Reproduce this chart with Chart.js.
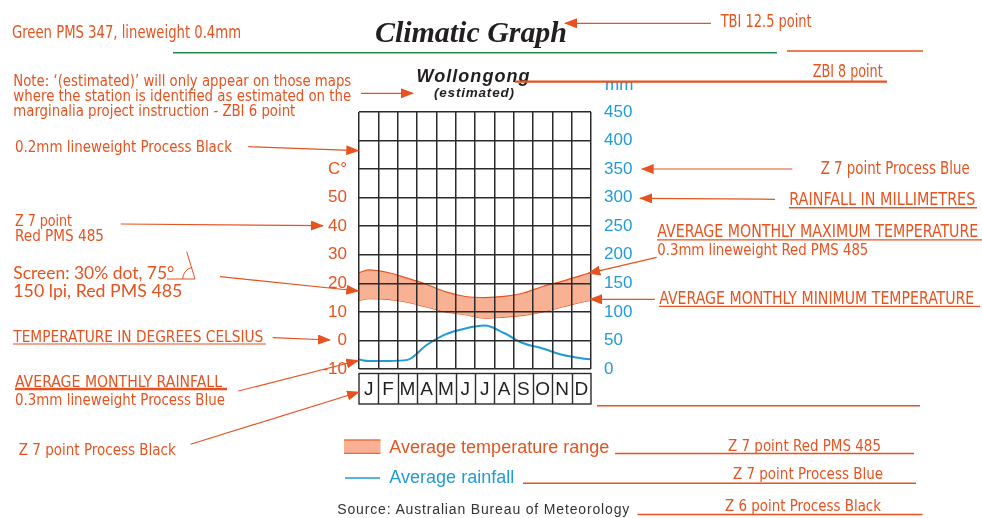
<!DOCTYPE html>
<html>
<head>
<meta charset="utf-8">
<title>Climatic Graph</title>
<script src="https://cdn.jsdelivr.net/npm/chart.js@4.4.1/dist/chart.umd.min.js"></script>
<style>
  html, body { margin: 0; padding: 0; background: #fff; }
  #wrap { position: relative; width: 982px; height: 518px; overflow: hidden; }
  #chart { position: absolute; left: 0; top: 0; }
  #notes { position: absolute; left: 0; top: 0; pointer-events: none; }
  .cond { font-family: "Liberation Sans Narrow", "DejaVu Sans Condensed", sans-serif; font-stretch: condensed; fill: #e6531f; }
  .geo { font-family: Lato, "Open Sans", sans-serif; fill: #e6531f; }
  .sans { font-family: "Liberation Sans", Arial, sans-serif; }
  .red { stroke: #e6531f; fill: none; }
</style>
</head>
<body>
<div id="wrap">
  <canvas id="chart" width="982" height="518"></canvas>
  <svg id="notes" width="982" height="518" xmlns="http://www.w3.org/2000/svg">
    <defs>
      <marker id="ah" markerUnits="userSpaceOnUse" markerWidth="13" markerHeight="10" refX="12" refY="5" orient="auto">
        <path d="M0,0 L13,5 L0,10 z" fill="#e6531f"/>
      </marker>
    </defs>

    <!-- title block -->
    <text x="375" y="41.5" font-family="Liberation Serif, serif" font-weight="bold" font-style="italic" font-size="30" fill="#231f20" textLength="192" lengthAdjust="spacing">Climatic Graph</text>
    <line x1="173" y1="52.7" x2="777" y2="52.7" stroke="#1f8a4c" stroke-width="1.5"/>
    <line class="red" x1="787" y1="51" x2="923" y2="51" stroke-width="1.3"/>
    <text class="sans" x="416.5" y="81.5" font-weight="bold" font-style="italic" font-size="18" fill="#231f20" textLength="113" lengthAdjust="spacing">Wollongong</text>
    <text class="sans" x="434" y="96.5" font-weight="bold" font-style="italic" font-size="13.5" fill="#231f20" textLength="80" lengthAdjust="spacing">(estimated)</text>
    <text class="sans" x="605" y="90" font-size="17" fill="#1f9bd7">mm</text>
    <line class="red" x1="515" y1="81.7" x2="887" y2="81.7" stroke-width="2.2"/>
    <text class="cond" x="812.7" y="77" font-size="17" textLength="70" lengthAdjust="spacingAndGlyphs">ZBI 8 point</text>

    <text class="cond" x="720.7" y="26.7" font-size="17.5" textLength="91" lengthAdjust="spacingAndGlyphs">TBI 12.5 point</text>
    <line class="red" x1="711" y1="23.3" x2="565" y2="23.3" stroke-width="1.3" marker-end="url(#ah)"/>
    <text class="cond" x="12" y="37.7" font-size="17.5" textLength="229" lengthAdjust="spacingAndGlyphs">Green PMS 347, lineweight 0.4mm</text>

    <text class="cond" x="13.3" y="86" font-size="15.5" textLength="338" lengthAdjust="spacingAndGlyphs">Note: ‘(estimated)’ will only appear on those maps</text>
    <text class="cond" x="13.3" y="101" font-size="15.5" textLength="338" lengthAdjust="spacingAndGlyphs">where the station is identified as estimated on the</text>
    <text class="cond" x="13.3" y="115.7" font-size="15.5" textLength="282" lengthAdjust="spacingAndGlyphs">marginalia project instruction - ZBI 6 point</text>
    <line class="red" x1="361" y1="93.3" x2="413" y2="93.3" stroke-width="1.3" marker-end="url(#ah)"/>

    <!-- left notes -->
    <text class="cond" x="15" y="151.7" font-size="16" textLength="217" lengthAdjust="spacingAndGlyphs">0.2mm lineweight Process Black</text>
    <line class="red" x1="248.3" y1="146.7" x2="358.3" y2="150.7" stroke-width="1.2" marker-end="url(#ah)"/>

    <text class="cond" x="15" y="226.3" font-size="16" textLength="57" lengthAdjust="spacingAndGlyphs">Z 7 point</text>
    <text class="cond" x="15" y="241" font-size="16" textLength="89" lengthAdjust="spacingAndGlyphs">Red PMS 485</text>
    <line class="red" x1="120.7" y1="224" x2="323" y2="225.7" stroke-width="1.2" marker-end="url(#ah)"/>

    <text class="geo" x="13.3" y="279" font-size="17" textLength="161" lengthAdjust="spacingAndGlyphs">Screen: 30% dot, 75°</text>
    <text class="geo" x="13.3" y="296.7" font-size="17" textLength="169" lengthAdjust="spacingAndGlyphs">150 lpi, Red PMS 485</text>
    <path class="red" d="M167,279 H195 L186.7,251.7 M182.7,279 A12,12 0 0 1 191.4,267.5" stroke-width="1"/>
    <line class="red" x1="220" y1="276.7" x2="358.3" y2="291" stroke-width="1.2" marker-end="url(#ah)"/>

    <text class="cond" x="13.3" y="341.7" font-size="16" textLength="250" lengthAdjust="spacingAndGlyphs">TEMPERATURE IN DEGREES CELSIUS</text>
    <line class="red" x1="13" y1="344" x2="266" y2="344" stroke-width="1.1"/>
    <line class="red" x1="272.7" y1="337.7" x2="330" y2="340" stroke-width="1.2" marker-end="url(#ah)"/>

    <text class="cond" x="15" y="386.7" font-size="16" textLength="207" lengthAdjust="spacingAndGlyphs">AVERAGE MONTHLY RAINFALL</text>
    <line class="red" x1="15" y1="389" x2="227" y2="389" stroke-width="2.6"/>
    <text class="cond" x="15" y="405" font-size="16" textLength="210" lengthAdjust="spacingAndGlyphs">0.3mm lineweight Process Blue</text>
    <line class="red" x1="238.3" y1="391" x2="358.3" y2="360.5" stroke-width="1.2" marker-end="url(#ah)"/>

    <text class="cond" x="18.8" y="455" font-size="15.5" textLength="157" lengthAdjust="spacingAndGlyphs">Z 7 point Process Black</text>
    <line class="red" x1="190.6" y1="444.3" x2="359" y2="392" stroke-width="1.2" marker-end="url(#ah)"/>

    <!-- right notes -->
    <text class="cond" x="820.7" y="174" font-size="17" textLength="149" lengthAdjust="spacingAndGlyphs">Z 7 point Process Blue</text>
    <line class="red" x1="792.3" y1="169" x2="641.7" y2="169" stroke-width="1.2" marker-end="url(#ah)"/>

    <text class="cond" x="789.3" y="205" font-size="17" textLength="186" lengthAdjust="spacingAndGlyphs">RAINFALL IN MILLIMETRES</text>
    <line class="red" x1="789" y1="207.7" x2="977" y2="207.7" stroke-width="1.6"/>
    <line class="red" x1="775" y1="199.3" x2="640" y2="198.3" stroke-width="1.2" marker-end="url(#ah)"/>

    <text class="cond" x="657.3" y="237.3" font-size="17" textLength="321" lengthAdjust="spacingAndGlyphs">AVERAGE MONTHLY MAXIMUM TEMPERATURE</text>
    <line class="red" x1="657" y1="239.8" x2="982" y2="239.8" stroke-width="1.3"/>
    <text class="cond" x="657.3" y="255" font-size="16" textLength="211" lengthAdjust="spacingAndGlyphs">0.3mm lineweight Red PMS 485</text>
    <line class="red" x1="656.7" y1="257.3" x2="588.3" y2="273.3" stroke-width="1.2" marker-end="url(#ah)"/>

    <text class="cond" x="659.3" y="304" font-size="17" textLength="315" lengthAdjust="spacingAndGlyphs">AVERAGE MONTHLY MINIMUM TEMPERATURE</text>
    <line class="red" x1="659" y1="306.3" x2="980" y2="306.3" stroke-width="1.3"/>
    <line class="red" x1="655" y1="299.3" x2="590" y2="299.3" stroke-width="1.2" marker-end="url(#ah)"/>

    <line class="red" x1="597" y1="405.7" x2="920" y2="405.7" stroke-width="1.5"/>

    <!-- legend -->
    <rect x="344" y="439.5" width="36.5" height="14" fill="#f9b194"/>
    <line class="red" x1="344" y1="440" x2="380.5" y2="440" stroke-width="1"/>
    <line class="red" x1="344" y1="453.3" x2="380.5" y2="453.3" stroke-width="1"/>
    <text class="sans" x="389.3" y="453.3" font-size="17.5" fill="#e6531f" textLength="220" lengthAdjust="spacingAndGlyphs">Average temperature range</text>
    <line class="red" x1="615" y1="453.6" x2="914" y2="453.6" stroke-width="1.5"/>
    <text class="cond" x="728" y="450.7" font-size="15.5" textLength="153" lengthAdjust="spacingAndGlyphs">Z 7 point Red PMS 485</text>

    <line x1="345" y1="478" x2="380" y2="478" stroke="#1f9bd7" stroke-width="1.4"/>
    <text class="sans" x="389.3" y="483.3" font-size="17.5" fill="#1f9bd7" textLength="125" lengthAdjust="spacingAndGlyphs">Average rainfall</text>
    <line class="red" x1="523" y1="483.3" x2="916" y2="483.3" stroke-width="1.5"/>
    <text class="cond" x="733" y="479.3" font-size="15.5" textLength="150" lengthAdjust="spacingAndGlyphs">Z 7 point Process Blue</text>

    <text class="sans" x="337.3" y="514" font-size="14" fill="#333" textLength="292" lengthAdjust="spacing">Source: Australian Bureau of Meteorology</text>
    <line class="red" x1="637.5" y1="514.6" x2="922.5" y2="514.6" stroke-width="1.5"/>
    <text class="cond" x="725" y="511" font-size="15.5" textLength="156" lengthAdjust="spacingAndGlyphs">Z 6 point Process Black</text>
  </svg>
</div>

<script>
// monthly values
const months = ['J', 'F', 'M', 'A', 'M', 'J', 'J', 'A', 'S', 'O', 'N', 'D'];
const maxTemp = [24.7, 23.8, 21.8, 19.6, 17.0, 15.4, 15.0, 15.4, 16.6, 18.9, 20.7, 22.8];
const minTemp = [14.6, 14.4, 13.4, 11.7, 10.0, 9.0, 7.8, 8.2, 8.8, 10.0, 11.7, 13.4];
const rainfall = [14, 14, 16, 42, 61, 71, 76, 63, 45, 36, 25, 19];

// axis ranges / labels
const tempMin = -10, tempMax = 80, tempStep = 10;
const tempUnitAt = 60;          // the "C°" label sits on this tick
const tempLabelTop = 50;        // highest numbered temperature tick
const rainMin = 0, rainMax = 450, rainStep = 50;

const RED = '#e6531f';
const BLUE = '#1f9bd7';
const SALMON = '#f9b194';
const GRID = '#2b2b2b';

// points sit mid-month; the year wraps so the curve meets both edges
function wrap(vals) {
  const edge = (vals[0] + vals[vals.length - 1]) / 2;
  const pts = vals.map((v, i) => ({ x: i + 0.5, y: v }));
  return [{ x: 0, y: edge }, ...pts, { x: months.length, y: edge }];
}

// boxed month row under the grid
const monthBoxes = {
  id: 'monthBoxes',
  afterDraw(chart) {
    const { ctx, chartArea, scales } = chart;
    const top = chartArea.bottom + 4.5;
    const bottom = chartArea.bottom + 35;
    ctx.save();
    ctx.strokeStyle = GRID;
    ctx.lineWidth = 1.4;
    ctx.strokeRect(chartArea.left, top, chartArea.right - chartArea.left, bottom - top);
    for (let i = 1; i < months.length; i++) {
      const x = Math.round(scales.x.getPixelForValue(i)) + 0.5;
      ctx.beginPath();
      ctx.moveTo(x, top);
      ctx.lineTo(x, bottom);
      ctx.stroke();
    }
    ctx.restore();
  }
};

const tickFont = { family: '"Liberation Sans", Arial, sans-serif', size: 17 };

new Chart(document.getElementById('chart'), {
  type: 'line',
  data: {
    datasets: [
      {
        label: 'Average monthly maximum temperature',
        data: wrap(maxTemp),
        yAxisID: 'yT',
        borderColor: RED,
        borderWidth: 1.2,
        backgroundColor: SALMON,
        fill: '+1',
        pointRadius: 0,
        cubicInterpolationMode: 'monotone'
      },
      {
        label: 'Average monthly minimum temperature',
        data: wrap(minTemp),
        yAxisID: 'yT',
        borderColor: RED,
        borderWidth: 1.2,
        fill: false,
        pointRadius: 0,
        cubicInterpolationMode: 'monotone'
      },
      {
        label: 'Average rainfall',
        data: wrap(rainfall),
        yAxisID: 'yR',
        borderColor: BLUE,
        borderWidth: 2,
        fill: false,
        pointRadius: 0,
        cubicInterpolationMode: 'monotone'
      }
    ]
  },
  options: {
    responsive: false,
    animation: false,
    events: [],
    layout: { padding: { left: 309, right: 331, top: 112, bottom: 109 } },
    plugins: {
      legend: { display: false },
      tooltip: { enabled: false }
    },
    scales: {
      x: {
        type: 'linear',
        position: 'bottom',
        min: 0,
        max: months.length,
        afterBuildTicks: s => { s.ticks = months.map((m, i) => ({ value: i + 0.5 })); },
        afterFit: s => { s.height = 40; },
        // grid drawn over the temperature band, as in the original
        grid: { offset: true, color: GRID, lineWidth: 1.5, drawTicks: false, z: 1 },
        border: { display: false },
        ticks: {
          autoSkip: false,
          maxRotation: 0,
          padding: 9,
          color: '#231f20',
          font: { family: '"Liberation Sans", Arial, sans-serif', size: 19 },
          callback: (v, i) => months[i]
        }
      },
      yT: {
        type: 'linear',
        position: 'left',
        min: tempMin,
        max: tempMax,
        afterFit: s => { s.width = 50; },
        grid: { color: GRID, lineWidth: 1.5, drawTicks: false, z: 1 },
        border: { display: false },
        ticks: {
          stepSize: tempStep,
          padding: 12,
          color: RED,
          font: tickFont,
          callback: v => v <= tempLabelTop ? v : (v === tempUnitAt ? 'C°' : '')
        }
      },
      yR: {
        type: 'linear',
        position: 'right',
        min: rainMin,
        max: rainMax,
        afterFit: s => { s.width = 60; },
        grid: { display: false, drawTicks: false },
        border: { display: false },
        ticks: {
          stepSize: rainStep,
          padding: 13,
          color: BLUE,
          font: tickFont
        }
      }
    }
  },
  plugins: [monthBoxes]
});
</script>
</body>
</html>
